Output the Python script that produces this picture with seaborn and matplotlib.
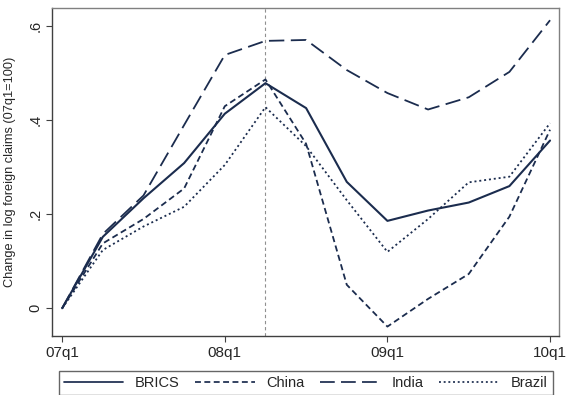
import matplotlib
matplotlib.use("Agg")
import matplotlib.pyplot as plt
import seaborn as sns
import pandas as pd

quarters = ["07q1", "07q2", "07q3", "07q4", "08q1", "08q2", "08q3", "08q4",
            "09q1", "09q2", "09q3", "09q4", "10q1"]
brics = [0, 0.152, 0.234, 0.309, 0.414, 0.479, 0.426, 0.269, 0.186, 0.208, 0.225, 0.260, 0.357]
china = [0, 0.138, 0.190, 0.255, 0.430, 0.487, 0.350, 0.050, -0.039, 0.020, 0.073, 0.195, 0.380]
india = [0, 0.158, 0.240, 0.390, 0.539, 0.569, 0.571, 0.507, 0.458, 0.423, 0.449, 0.503, 0.613]
brazil = [0, 0.124, 0.174, 0.216, 0.305, 0.428, 0.345, 0.230, 0.120, 0.190, 0.268, 0.280, 0.394]
series_names = ["BRICS", "China", "India", "Brazil"]
tick_quarters = ["07q1", "08q1", "09q1", "10q1"]
ytick_vals = [0, 0.2, 0.4, 0.6]
ytick_labels = ["0", ".2", ".4", ".6"]
event_quarter = "08q2"

sns.set_theme(style="white")
plt.rcParams["font.family"] = ["Liberation Sans", "DejaVu Sans"]

navy = "#1b2c4e"

rows = []
for name, vals in zip(series_names, [brics, china, india, brazil]):
    for i, (q, v) in enumerate(zip(quarters, vals)):
        rows.append({"t": i, "quarter": q, "value": v, "series": name})
df = pd.DataFrame(rows)

fig = plt.figure(figsize=(5.66, 3.95), dpi=100)
ax = fig.add_axes([52 / 566, 1 - 336 / 395, (559 - 52) / 566, (336 - 8) / 395])

dash_map = {"BRICS": "", "China": (3.4, 2.0), "India": (8.5, 3.6), "Brazil": (1.1, 1.6)}
sns.lineplot(data=df, x="t", y="value", style="series", style_order=series_names,
             dashes=dash_map, color=navy, linewidth=1.3, ax=ax, legend=False)
lines = list(ax.get_lines())[:4]
lines[0].set_linewidth(1.5)

ev = quarters.index(event_quarter)
ax.axvline(ev, color="#909090", linestyle=(0, (3, 2.5)), linewidth=0.8, zorder=0)

ax.set_xlim(-0.25, 12.22)
ax.set_ylim(-0.059, 0.639)
ax.set_xticks([quarters.index(q) for q in tick_quarters])
ax.set_xticklabels(tick_quarters, fontsize=11)
ax.set_yticks(ytick_vals)
ax.set_yticklabels(ytick_labels, fontsize=10.5, rotation=90, va="center")
ax.tick_params(axis="both", which="major", direction="out", length=4, width=0.8,
               color="#404040", bottom=True, left=True, pad=3)
ax.set_xlabel("")
ax.set_ylabel("Change in log foreign claims (07q1=100)", fontsize=9.2)
ax.yaxis.set_label_coords(-0.071, 0.5)

for s in ["left", "bottom"]:
    ax.spines[s].set_color("#404040")
    ax.spines[s].set_linewidth(1.0)
for s in ["top", "right"]:
    ax.spines[s].set_color("#808080")
    ax.spines[s].set_linewidth(1.0)

leg = fig.legend(lines, series_names, loc="upper left",
                 bbox_to_anchor=(58.5 / 566, 0, (552.7 - 58.5) / 566, 1 - 370.7 / 395),
                 mode="expand", ncol=4, fontsize=10.5, frameon=True, fancybox=False,
                 handlelength=4.1, handletextpad=0.8, borderpad=0.35, borderaxespad=0)
leg.get_frame().set_edgecolor("#404040")
leg.get_frame().set_linewidth(1.0)
for h in leg.get_lines():
    h.set_linewidth(1.25)

fig.savefig("out.png", dpi=100)
